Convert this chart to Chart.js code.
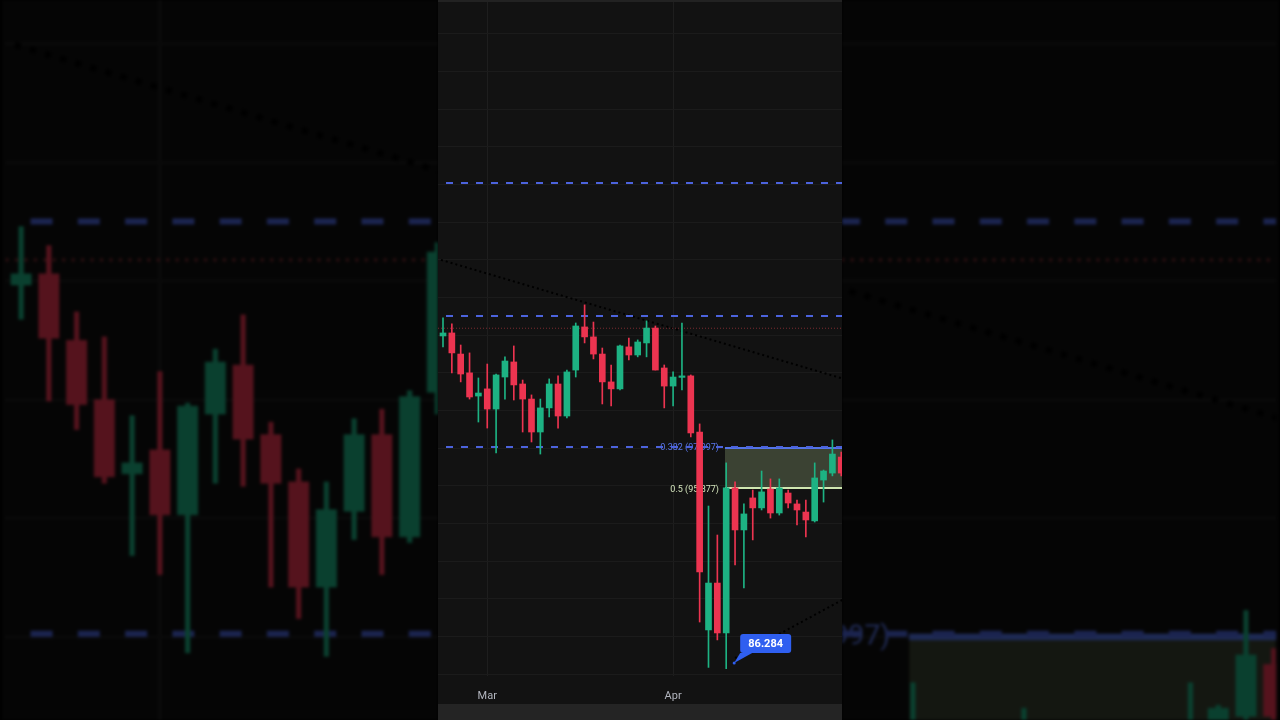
<!DOCTYPE html>
<html>
<head>
<meta charset="utf-8">
<script src="https://cdn.jsdelivr.net/npm/chart.js@4.4.1/dist/chart.umd.min.js"></script>
<style>
  body { margin:0; background:#000; width:1280px; height:720px; overflow:hidden; }
  .side { position:absolute; top:0; width:438px; height:720px; overflow:hidden; background:#000; filter: brightness(0.36) blur(1.4px); }
  .zoom { position:absolute; left:0; top:0; width:404px; height:704px; transform-origin:0 0; background:#0d0d0d; }
  #left { left:0; }
  #left .zoom { transform: translate(2.25px, -776px) scale(3.15); }
  #right { left:842px; }
  #right .zoom { transform: translate(-836px, -776px) scale(3.15); }
  #panel { position:absolute; left:438px; top:0; width:404px; height:720px; background:#121212; }
  #mainBox { position:absolute; left:0; top:0; width:404px; height:704px; }
  #topline { position:absolute; left:0; top:0; width:404px; height:2px; background:#222; }
  #bottombar { position:absolute; left:0; top:704px; width:404px; height:16px; background:#242424; }
</style>
</head>
<body>
<div class="side" id="left"><div class="zoom"><canvas id="leftChart"></canvas></div></div>
<div class="side" id="right"><div class="zoom"><canvas id="rightChart"></canvas></div></div>
<div id="panel">
  <div id="mainBox"><canvas id="myChart"></canvas></div>
  <div id="topline"></div>
  <div id="bottombar"></div>
</div>
<script>
// daily candles, index 0 = first visible bar
const opens  = [103.95,104.11,102.99,101.99,100.76,101.14,100.07,101.77,102.57,101.40,100.60,98.85,100.13,101.40,99.70,102.14,104.43,103.90,102.99,101.51,101.14,103.37,102.94,103.58,104.37,102.25,101.29,101.75,101.83,98.85,88.34,90.83,88.18,95.88,93.65,95.35,94.82,95.82,94.55,95.61,95.03,94.60,94.13,96.30,96.67,97.52];
const highs  = [104.91,104.59,103.47,103.05,101.72,102.46,101.93,102.84,103.42,101.61,100.82,100.60,101.67,101.83,102.14,104.64,105.60,104.69,103.31,102.41,103.47,103.84,103.74,104.75,104.48,102.41,102.04,104.64,101.88,99.28,94.92,93.38,97.21,96.20,95.03,95.77,96.78,96.36,96.36,95.77,95.24,95.24,97.21,96.83,98.43,97.79];
const lows   = [103.37,101.99,101.51,100.60,99.38,99.06,97.74,100.60,100.55,98.85,98.32,97.68,99.65,99.06,99.60,101.77,103.58,102.73,100.34,100.23,101.08,102.68,102.84,102.84,102.14,100.13,100.23,101.08,98.59,88.76,86.35,87.81,86.284,91.79,90.57,93.12,94.71,94.28,94.44,94.82,93.91,93.28,94.07,95.13,96.52,96.52];
const closes = [104.11,103.05,101.93,100.71,100.92,100.07,101.88,102.62,101.35,100.60,98.85,100.13,101.40,99.70,102.04,104.48,103.90,102.99,101.51,101.14,103.42,102.94,103.63,104.37,102.14,101.29,101.77,101.83,98.80,91.42,90.83,88.18,95.88,93.65,94.50,94.82,95.67,94.55,95.88,95.08,94.71,94.18,96.41,96.78,97.68,96.67];

// time axis
const monthTicks  = [5, 26];
const monthLabels = ["Mar", "Apr"];

// drawings (price levels)
const dashedLevels = [112.07, 105.01, 98.05];
const redDotLevel  = 104.36;
const fibLevels    = [97.997, 95.877];
const fibLabels    = ["0.382 (97.997)", "0.5 (95.877)"];
const fibStart     = 31.86;
const trend1 = [[-0.23, 107.99], [45.14, 101.69]];
const trend2 = [[33.0, 86.85], [45.1, 89.93]];

const GREEN = "#1db283";
const RED = "#ec3450";
const xMin = -0.565, xMax = 45.085;
const yMin = 85.894, yMax = 121.79;

const idx = opens.map((o, i) => i);
const candleColors = idx.map(i => closes[i] >= opens[i] ? GREEN : RED);

const drawText = {
  id: "drawText",
  beforeDatasetsDraw(chart) {
    const ctx = chart.ctx, x = chart.scales.x, y = chart.scales.y;
    ctx.save();
    ctx.font = "9px Roboto, sans-serif";
    ctx.textAlign = "right";
    ctx.textBaseline = "middle";
    const cols = ["#5a78ee", "#d5e6bd"];
    fibLevels.forEach((lv, k) => {
      ctx.fillStyle = cols[k];
      ctx.fillText(fibLabels[k], x.getPixelForValue(fibStart) - 6, y.getPixelForValue(lv) + (k ? 2 : 0));
    });
    ctx.restore();
  },
  afterDatasetsDraw(chart) {
    const ctx = chart.ctx, x = chart.scales.x, y = chart.scales.y;
    const ax = x.getPixelForValue(32.9), ay = y.getPixelForValue(86.58);
    const txt = Math.min(...lows).toFixed(3);
    ctx.save();
    ctx.fillStyle = "#2f5ff0";
    ctx.beginPath();
    ctx.moveTo(ax, ay);
    ctx.lineTo(ax + 6, ay - 10);
    ctx.lineTo(ax + 18, ay - 10);
    ctx.closePath();
    ctx.fill();
    ctx.beginPath();
    ctx.roundRect(ax + 6, ay - 29, 51, 19, 3);
    ctx.fill();
    ctx.beginPath();
    ctx.arc(ax, ay, 1.5, 0, Math.PI * 2);
    ctx.fill();
    ctx.fillStyle = "#ffffff";
    ctx.font = "bold 11px Roboto, sans-serif";
    ctx.textAlign = "center";
    ctx.textBaseline = "middle";
    ctx.fillText(txt, ax + 31.5, ay - 19);
    ctx.restore();
  }
};

function flatLine(level, from, color, dash, width, order) {
  return {
    type: "line",
    data: [{x: from, y: level}, {x: xMax + 1, y: level}],
    borderColor: color,
    borderWidth: width,
    borderDash: dash,
    pointRadius: 0,
    fill: false,
    order: order
  };
}

function buildChart(canvas, dpr) {
  const datasets = [
    {
      label: "wick",
      data: idx.map(i => ({x: i, y: [lows[i], highs[i]]})),
      backgroundColor: candleColors,
      barThickness: 1,
      grouped: false,
      order: 1
    },
    {
      label: "body",
      data: idx.map(i => ({x: i, y: [opens[i], closes[i]]})),
      backgroundColor: candleColors,
      barThickness: 6,
      minBarLength: 1,
      grouped: false,
      order: 0
    },
    flatLine(fibLevels[0], fibStart, "#5474e8", [], 2, 4),
    Object.assign(flatLine(fibLevels[1], fibStart, "#cfe6b0", [], 2, 4), {fill: "-1", backgroundColor: "rgba(125,145,105,0.38)"}),
    flatLine(redDotLevel, xMin, "#7c2a30", [1, 2], 1, 3)
  ];
  dashedLevels.forEach(lv => datasets.push(flatLine(lv, 0.34, "#4c63dc", [7, 8], 2, 3)));
  [trend1, trend2].forEach(t => datasets.push({
    type: "line",
    data: t.map(p => ({x: p[0], y: p[1]})),
    borderColor: "#000000",
    borderWidth: 2,
    borderDash: [2, 3],
    pointRadius: 0,
    fill: false,
    order: 3
  }));

  return new Chart(canvas, {
    type: "bar",
    data: { datasets: datasets },
    options: {
      responsive: true,
      maintainAspectRatio: false,
      devicePixelRatio: dpr,
      animation: false,
      events: [],
      layout: { padding: 0 },
      plugins: { legend: { display: false }, tooltip: { enabled: false } },
      scales: {
        x: {
          type: "linear",
          min: xMin,
          max: xMax,
          offset: false,
          grid: { color: "#1e1e1e", drawTicks: false, offset: false },
          border: { display: false },
          ticks: {
            color: "#b2b5be",
            font: { size: 11, family: "Roboto, sans-serif" },
            padding: 14,
            maxRotation: 0,
            autoSkip: false,
            callback: v => monthLabels[monthTicks.indexOf(v)]
          },
          afterBuildTicks: s => { s.ticks = monthTicks.map(v => ({value: v})); },
          afterFit: s => { s.height = 28; }
        },
        y: {
          type: "linear",
          min: yMin,
          max: yMax,
          grid: { color: "#1b1b1b", drawTicks: false },
          border: { display: false },
          ticks: { display: false, stepSize: 2, includeBounds: false },
          afterFit: s => { s.width = 0; }
        }
      }
    },
    plugins: [drawText]
  });
}

buildChart(document.getElementById("myChart"), 1);
buildChart(document.getElementById("leftChart"), 3.15);
buildChart(document.getElementById("rightChart"), 3.15);
</script>
</body>
</html>
